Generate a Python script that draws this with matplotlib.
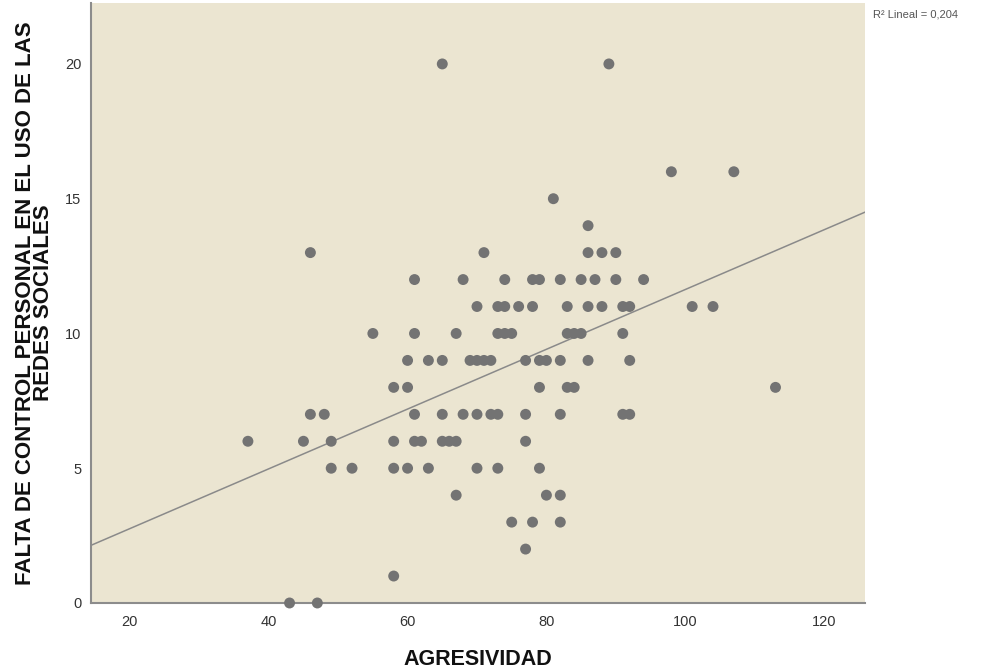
import numpy as np
import matplotlib
matplotlib.use("Agg")
import matplotlib.pyplot as plt

# ---------------------------------------------------------------------------
# Data (points grouped by Y value)
# ---------------------------------------------------------------------------
rows = {
    20: [65, 89],
    16: [98, 107],
    15: [81],
    14: [86],
    13: [46, 71, 86, 88, 90],
    12: [61, 68, 74, 78, 79, 82, 85, 87, 90, 94],
    11: [70, 73, 74, 76, 78, 83, 86, 88, 91, 92, 101, 104],
    10: [55, 61, 67, 73, 74, 75, 83, 84, 85, 91],
    9: [60, 63, 65, 69, 70, 71, 72, 77, 79, 80, 82, 86, 92],
    8: [58, 60, 79, 83, 84, 113],
    7: [46, 48, 61, 65, 68, 70, 72, 73, 77, 82, 91, 92],
    6: [37, 45, 49, 58, 61, 62, 65, 66, 67, 77],
    5: [49, 52, 58, 60, 63, 70, 73, 79],
    4: [67, 80, 82],
    3: [75, 78, 82],
    2: [77],
    1: [58],
    0: [43, 47],
}
agresividad = [x for y, xs in rows.items() for x in xs]
falta_control = [y for y, xs in rows.items() for x in xs]

x_ticks = [20, 40, 60, 80, 100, 120]
y_ticks = [0, 5, 10, 15, 20]
r2_label = "R² Lineal = 0,204"

# ---------------------------------------------------------------------------
# Figure
# ---------------------------------------------------------------------------
plt.rcParams["font.family"] = ["Liberation Sans", "DejaVu Sans"]

fig = plt.figure(figsize=(9.83, 6.72), dpi=100)
ax = fig.add_axes([0.0926, 0.1027, 0.7874, 0.8928])
ax.set_facecolor("#EBE5D1")

x = np.array(agresividad, dtype=float)
y = np.array(falta_control, dtype=float)
ax.scatter(x, y, s=62, color="#737373", edgecolors="none", zorder=3, clip_on=False)

# linear fit line across the whole x range
xmin, xmax = 14.4, 125.9
slope, intercept = np.polyfit(x, y, 1)
xs = np.array([xmin, xmax])
ax.plot(xs, slope * xs + intercept, color="#8a8a8a", lw=1.1, zorder=2)

ax.set_xlim(xmin, xmax)
ax.set_ylim(0, 22.26)
ax.set_xticks(x_ticks)
ax.set_yticks(y_ticks)
ax.tick_params(length=0, labelsize=10.5, colors="#333333")
ax.tick_params(axis="x", pad=9)
ax.tick_params(axis="y", pad=7)

for side in ["top", "right"]:
    ax.spines[side].set_visible(False)
for side in ["left", "bottom"]:
    ax.spines[side].set_color("#8c8c8c")
    ax.spines[side].set_linewidth(1.5)

ax.set_xlabel("AGRESIVIDAD", fontsize=15.5, fontweight="bold", color="#111111", labelpad=14)
ax.set_ylabel("FALTA DE CONTROL PERSONAL EN EL USO DE LAS\nREDES SOCIALES",
              fontsize=16, fontweight="bold", color="#111111", labelpad=8,
              linespacing=0.8)

fig.text(0.888, 0.978, r2_label, fontsize=8, color="#555555", ha="left", va="center")

fig.savefig("out.png", dpi=100)
